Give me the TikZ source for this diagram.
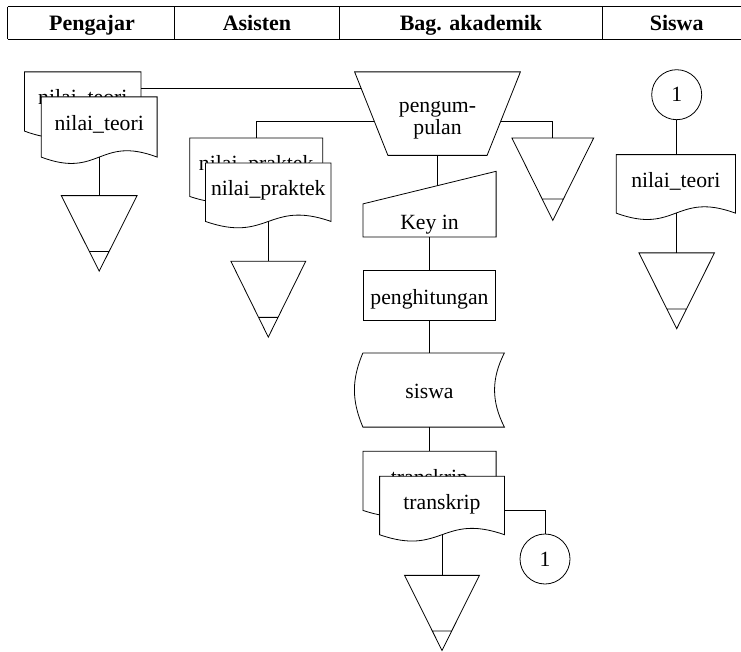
\documentclass[tikz,border=0pt]{standalone}
\usepackage{fontspec}
\setmainfont{Liberation Serif}
\usetikzlibrary{calc}
\makeatletter
\pgfdeclareshape{flowdoc}{%
  \inheritsavedanchors[from=rectangle]%
  \inheritanchorborder[from=rectangle]%
  \inheritanchor[from=rectangle]{center}%
  \inheritanchor[from=rectangle]{north}%
  \inheritanchor[from=rectangle]{south}%
  \inheritanchor[from=rectangle]{east}%
  \inheritanchor[from=rectangle]{west}%
  \inheritanchor[from=rectangle]{north east}%
  \inheritanchor[from=rectangle]{north west}%
  \inheritanchor[from=rectangle]{south east}%
  \inheritanchor[from=rectangle]{south west}%
  \inheritanchor[from=rectangle]{mid}%
  \inheritanchor[from=rectangle]{base}%
  \backgroundpath{%
    \southwest \edef\fdxa{\the\pgf@x}\edef\fdya{\the\pgf@y}%
    \northeast \edef\fdxb{\the\pgf@x}\edef\fdyb{\the\pgf@y}%
    \pgfpathmoveto{\pgfqpoint{\fdxa}{\fdya}}%
    \pgfpathlineto{\pgfqpoint{\fdxa}{\fdyb}}%
    \pgfpathlineto{\pgfqpoint{\fdxb}{\fdyb}}%
    \pgfpathlineto{\pgfqpoint{\fdxb}{\fdya}}%
    \pgfpathcurveto{\pgfpoint{0.5*(\fdxa)+0.5*(\fdxb)}{\fdya+22pt}}{\pgfpoint{0.5*(\fdxa)+0.5*(\fdxb)}{\fdya-22pt}}{\pgfqpoint{\fdxa}{\fdya}}%
    \pgfpathclose
  }%
}
\pgfdeclareshape{offlinest}{%
  \inheritsavedanchors[from=rectangle]%
  \inheritanchorborder[from=rectangle]%
  \inheritanchor[from=rectangle]{center}%
  \inheritanchor[from=rectangle]{north}%
  \inheritanchor[from=rectangle]{south}%
  \inheritanchor[from=rectangle]{east}%
  \inheritanchor[from=rectangle]{west}%
  \inheritanchor[from=rectangle]{north east}%
  \inheritanchor[from=rectangle]{north west}%
  \inheritanchor[from=rectangle]{south east}%
  \inheritanchor[from=rectangle]{south west}%
  \backgroundpath{%
    \southwest \edef\fdxa{\the\pgf@x}\edef\fdya{\the\pgf@y}%
    \northeast \edef\fdxb{\the\pgf@x}\edef\fdyb{\the\pgf@y}%
    \pgfpathmoveto{\pgfqpoint{\fdxa}{\fdyb}}%
    \pgfpathlineto{\pgfqpoint{\fdxb}{\fdyb}}%
    \pgfpathlineto{\pgfpoint{0.5*(\fdxa)+0.5*(\fdxb)}{\fdya}}%
    \pgfpathclose
    \pgfpathmoveto{\pgfpoint{0.63*(\fdxa)+0.37*(\fdxb)}{0.74*(\fdya)+0.26*(\fdyb)}}%
    \pgfpathlineto{\pgfpoint{0.37*(\fdxa)+0.63*(\fdxb)}{0.74*(\fdya)+0.26*(\fdyb)}}%
  }%
}
\makeatother
\tikzset{
  docbox/.style={shape=flowdoc, draw, fill=white, inner sep=0pt, text height=15pt, text depth=8pt},
  offl/.style={shape=offlinest, draw, inner sep=0pt},
  procbox/.style={draw, rectangle, inner sep=0pt},
  ghost/.style={draw=none, inner sep=0pt},
  lowtext/.style={text height=22.5pt, text depth=4.7pt},
  hdr/.style={font=\bfseries\fontsize{22}{22}\selectfont, anchor=base, inner sep=0pt},
  circ/.style={circle, draw, minimum size=50pt, inner sep=0pt},
}
\begin{document}
\begin{tikzpicture}[x=1pt, y=-1pt, line width=0.8pt, font=\fontsize{21.7}{22}\selectfont]
\useasboundingbox (0,0) rectangle (741,652);
% header
\draw[line width=1.5pt] (7.5,6.7) -- (741,6.7);
\draw (7.5,39.5) -- (741,39.5);
\foreach \xx in {7.5,174,339,602.5} \draw (\xx,6.7) -- (\xx,39.5);
\node[hdr] (h1) at (92,30.5) {Pengajar};
\node[hdr] (h2) at (257,30.5) {Asisten};
\node[hdr] (h3) at (471,30.5) {Bag. akademik};
\node[hdr] (h4) at (676.7,30.5) {Siswa};
% Pengajar
\node[docbox, minimum width=115.7, minimum height=58.4] (ntb) at (82.8,101.5) {nilai\_teori};
\node[docbox, minimum width=115, minimum height=59.4] (ntf) at (99.2,127) {nilai\_teori};
\node[offl, minimum width=75, minimum height=74.7] (t1) at (99.2,233.4) {};
% Asisten
\node[docbox, minimum width=132.3, minimum height=57.7] (npb) at (256.2,167.2) {nilai\_praktek};
\node[docbox, minimum width=124.7, minimum height=57.7] (npf) at (268.3,192.2) {nilai\_praktek};
\node[offl, minimum width=74, minimum height=75] (t2) at (268.3,299.2) {};
% Bag. akademik
\node[ghost, minimum width=165, minimum height=82.7] (pg) at (437.5,113.65) {};
\node[ghost, align=center] (pgtext) at ($(pg.center)+(0,6.3)$) {pengum-\\pulan};
\coordinate (pgBL) at ($(pg.south west)+(33.3,0)$);
\coordinate (pgBR) at ($(pg.south east)+(-33.3,0)$);
\draw (pg.north west) -- (pg.north east) -- (pgBR) -- (pgBL) -- cycle;
\coordinate (pgL1) at ($(pg.north west)!0.202!(pgBL)$);
\coordinate (pgL2) at ($(pg.north west)!0.597!(pgBL)$);
\coordinate (pgR2) at ($(pg.north east)!0.597!(pgBR)$);
\node[offl, minimum width=81, minimum height=81.7] (t3) at (552.8,179.2) {};
\node[ghost, lowtext, minimum width=132.4, minimum height=32.4] (ki) at (429.5,220.5) {Key in};
\coordinate (kiTR) at ($(ki.north east)+(0,-32.6)$);
\draw (ki.south west) -- (ki.north west) -- (kiTR) -- (ki.south east) -- cycle;
\coordinate (kiIn) at ($(ki.north west)!0.5604!(kiTR)$);
\node[procbox, lowtext, minimum width=132.4, minimum height=49.3] (ph) at (429.5,295.35) {penghitungan};
\node[ghost, lowtext, minimum width=149, minimum height=73.4] (sw) at (429.5,390) {siswa};
\coordinate (swTL) at ($(sw.north west)+(8.3,0)$);
\coordinate (swBL) at ($(sw.south west)+(8.3,0)$);
\draw (swTL) -- (sw.north east) to[bend right=27] (sw.south east) -- (swBL) to[bend left=23] (swTL);
\node[docbox, minimum width=132.4, minimum height=58.3] (tb) at (429.5,480.85) {transkrip};
\node[docbox, minimum width=124, minimum height=57.6] (tf) at (442,505.5) {transkrip};
\node[offl, minimum width=74, minimum height=74.3] (t5) at (442,612.9) {};
\node[circ] (c2) at (545,559) {1};
% Siswa
\node[circ] (c1) at (676.7,94.7) {1};
\node[docbox, minimum width=118.3, minimum height=57.7] (sd) at (675.85,183.9) {nilai\_teori};
\node[offl, minimum width=74.7, minimum height=75] (t4) at (676.7,290.8) {};
% connectors
\draw (pgL1) -- (pgL1 -| ntb.east);
\draw (npb.north) |- (pgL2);
\draw (ntf.south) -- (t1.north);
\draw (npf.south) -- (t2.north);
\draw (pgR2) -| (t3.north);
\draw (pg.south) -- (kiIn);
\draw (ki.south) -- (ph.north);
\draw (ph.south) -- (sw.north);
\draw (sw.south) -- (tb.north);
\draw (tf.south) -- (t5.north);
\draw ($(tf.east)+(0,4.5)$) -| (c2.north);
\draw (c1.south) -- (c1.south |- sd.north);
\draw (sd.south -| t4.north) -- (t4.north);
\end{tikzpicture}
\end{document}
